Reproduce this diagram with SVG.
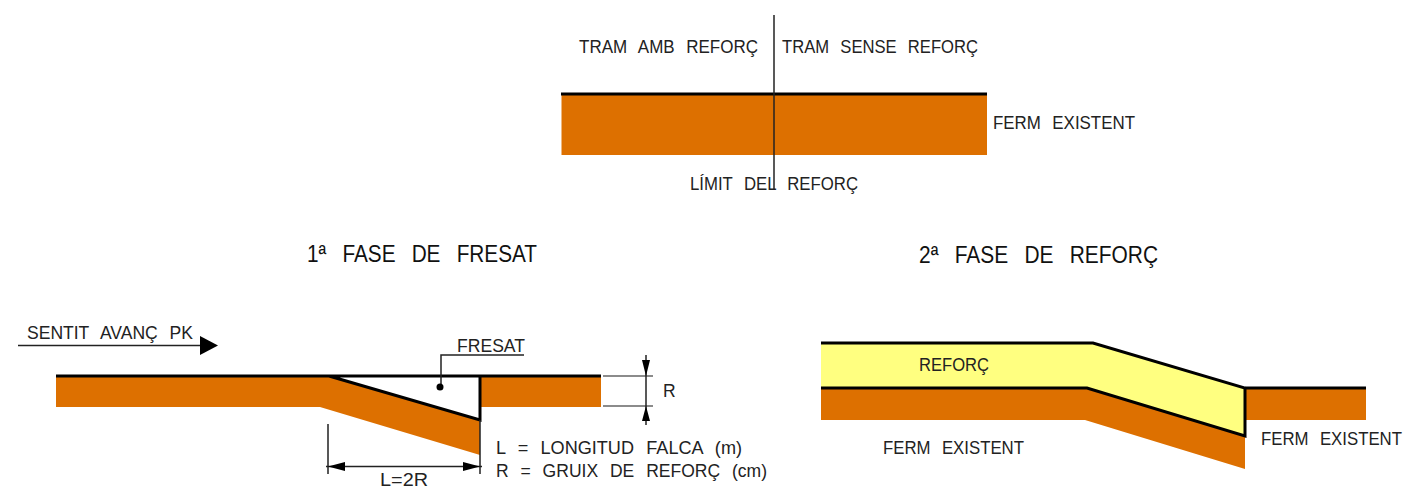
<svg xmlns="http://www.w3.org/2000/svg" width="1423" height="489" viewBox="0 0 1423 489">
<style>
text{font-family:"Liberation Sans",Arial,sans-serif;font-size:17.5px;fill:#222;word-spacing:7px}
.h{font-size:24px;fill:#111;word-spacing:12px}
.o{fill:#dd7000}.y{fill:#ffff80}
.b{fill:none;stroke:#000;stroke-width:3;stroke-linejoin:miter}
.t{fill:none;stroke:#222;stroke-width:1.5}
.g{fill:none;stroke:#666;stroke-width:1.5}
.a{fill:#000}
</style>
<rect width="1423" height="489" fill="#fff"/>
<g id="seccio-superior">
<rect class="o" x="561.500" y="94" width="425.500" height="61"/>
<path class="b" d="M561 94H987"/>
<path class="t" d="M774 15V190"/>
<text x="579" y="53" textLength="179" lengthAdjust="spacingAndGlyphs">TRAM AMB REFORÇ</text>
<text x="782" y="53" textLength="196" lengthAdjust="spacingAndGlyphs">TRAM SENSE REFORÇ</text>
<text x="993" y="129" textLength="142" lengthAdjust="spacingAndGlyphs">FERM EXISTENT</text>
<text x="690" y="190" textLength="168" lengthAdjust="spacingAndGlyphs">LÍMIT DEL REFORÇ</text>
</g>
<g id="fase-1">
<text class="h" x="307" y="262" textLength="230" lengthAdjust="spacingAndGlyphs">1ª FASE DE FRESAT</text>
<path class="o" d="M56 376H329L480 420V455L320 407H56Z"/>
<rect class="o" x="481" y="376" width="120" height="31"/>
<path class="b" d="M56 376H601M329 376L480 420V376"/>
<path class="t" d="M18 345.500H200"/>
<path class="a" d="M200 336L218 345.500L200 355Z"/>
<text x="27" y="339" textLength="166" lengthAdjust="spacingAndGlyphs">SENTIT AVANÇ PK</text>
<path class="t" d="M441 387V355H524"/>
<circle class="a" cx="440" cy="387" r="3.500"/>
<text x="457" y="352" textLength="68" lengthAdjust="spacingAndGlyphs">FRESAT</text>
<path class="g" d="M603 376H653M603 406H653"/>
<path class="t" d="M646 355V425"/>
<path class="a" d="M642 360H650L646 376ZM642 421H650L646 406Z"/>
<text x="663" y="397">R</text>
<path class="t" d="M328 424V474M480 420V474M326 466.500H482"/>
<path class="a" d="M328 466.500L345 462V471ZM480 466.500L463 462V471Z"/>
<text x="380" y="486" textLength="48" lengthAdjust="spacingAndGlyphs">L=2R</text>
<text x="496" y="454" textLength="246" lengthAdjust="spacingAndGlyphs">L = LONGITUD FALCA (m)</text>
<text x="496" y="477" textLength="271" lengthAdjust="spacingAndGlyphs">R = GRUIX DE REFORÇ (cm)</text>
</g>
<g id="fase-2">
<text class="h" x="919" y="263" textLength="239" lengthAdjust="spacingAndGlyphs">2ª FASE DE REFORÇ</text>
<path class="y" d="M821 343H1093L1245 388V436L1087 388H821Z"/>
<path class="o" d="M821 388H1087L1245 436V469L1085 420H821Z"/>
<rect class="o" x="1245" y="388" width="121" height="32"/>
<path class="b" d="M821 343H1093L1245 388V436L1087 388H821M1245 388H1366"/>
<text x="919" y="371" textLength="70" lengthAdjust="spacingAndGlyphs">REFORÇ</text>
<text x="883" y="454" textLength="141" lengthAdjust="spacingAndGlyphs">FERM EXISTENT</text>
<text x="1261" y="445" textLength="141" lengthAdjust="spacingAndGlyphs">FERM EXISTENT</text>
</g>
</svg>
